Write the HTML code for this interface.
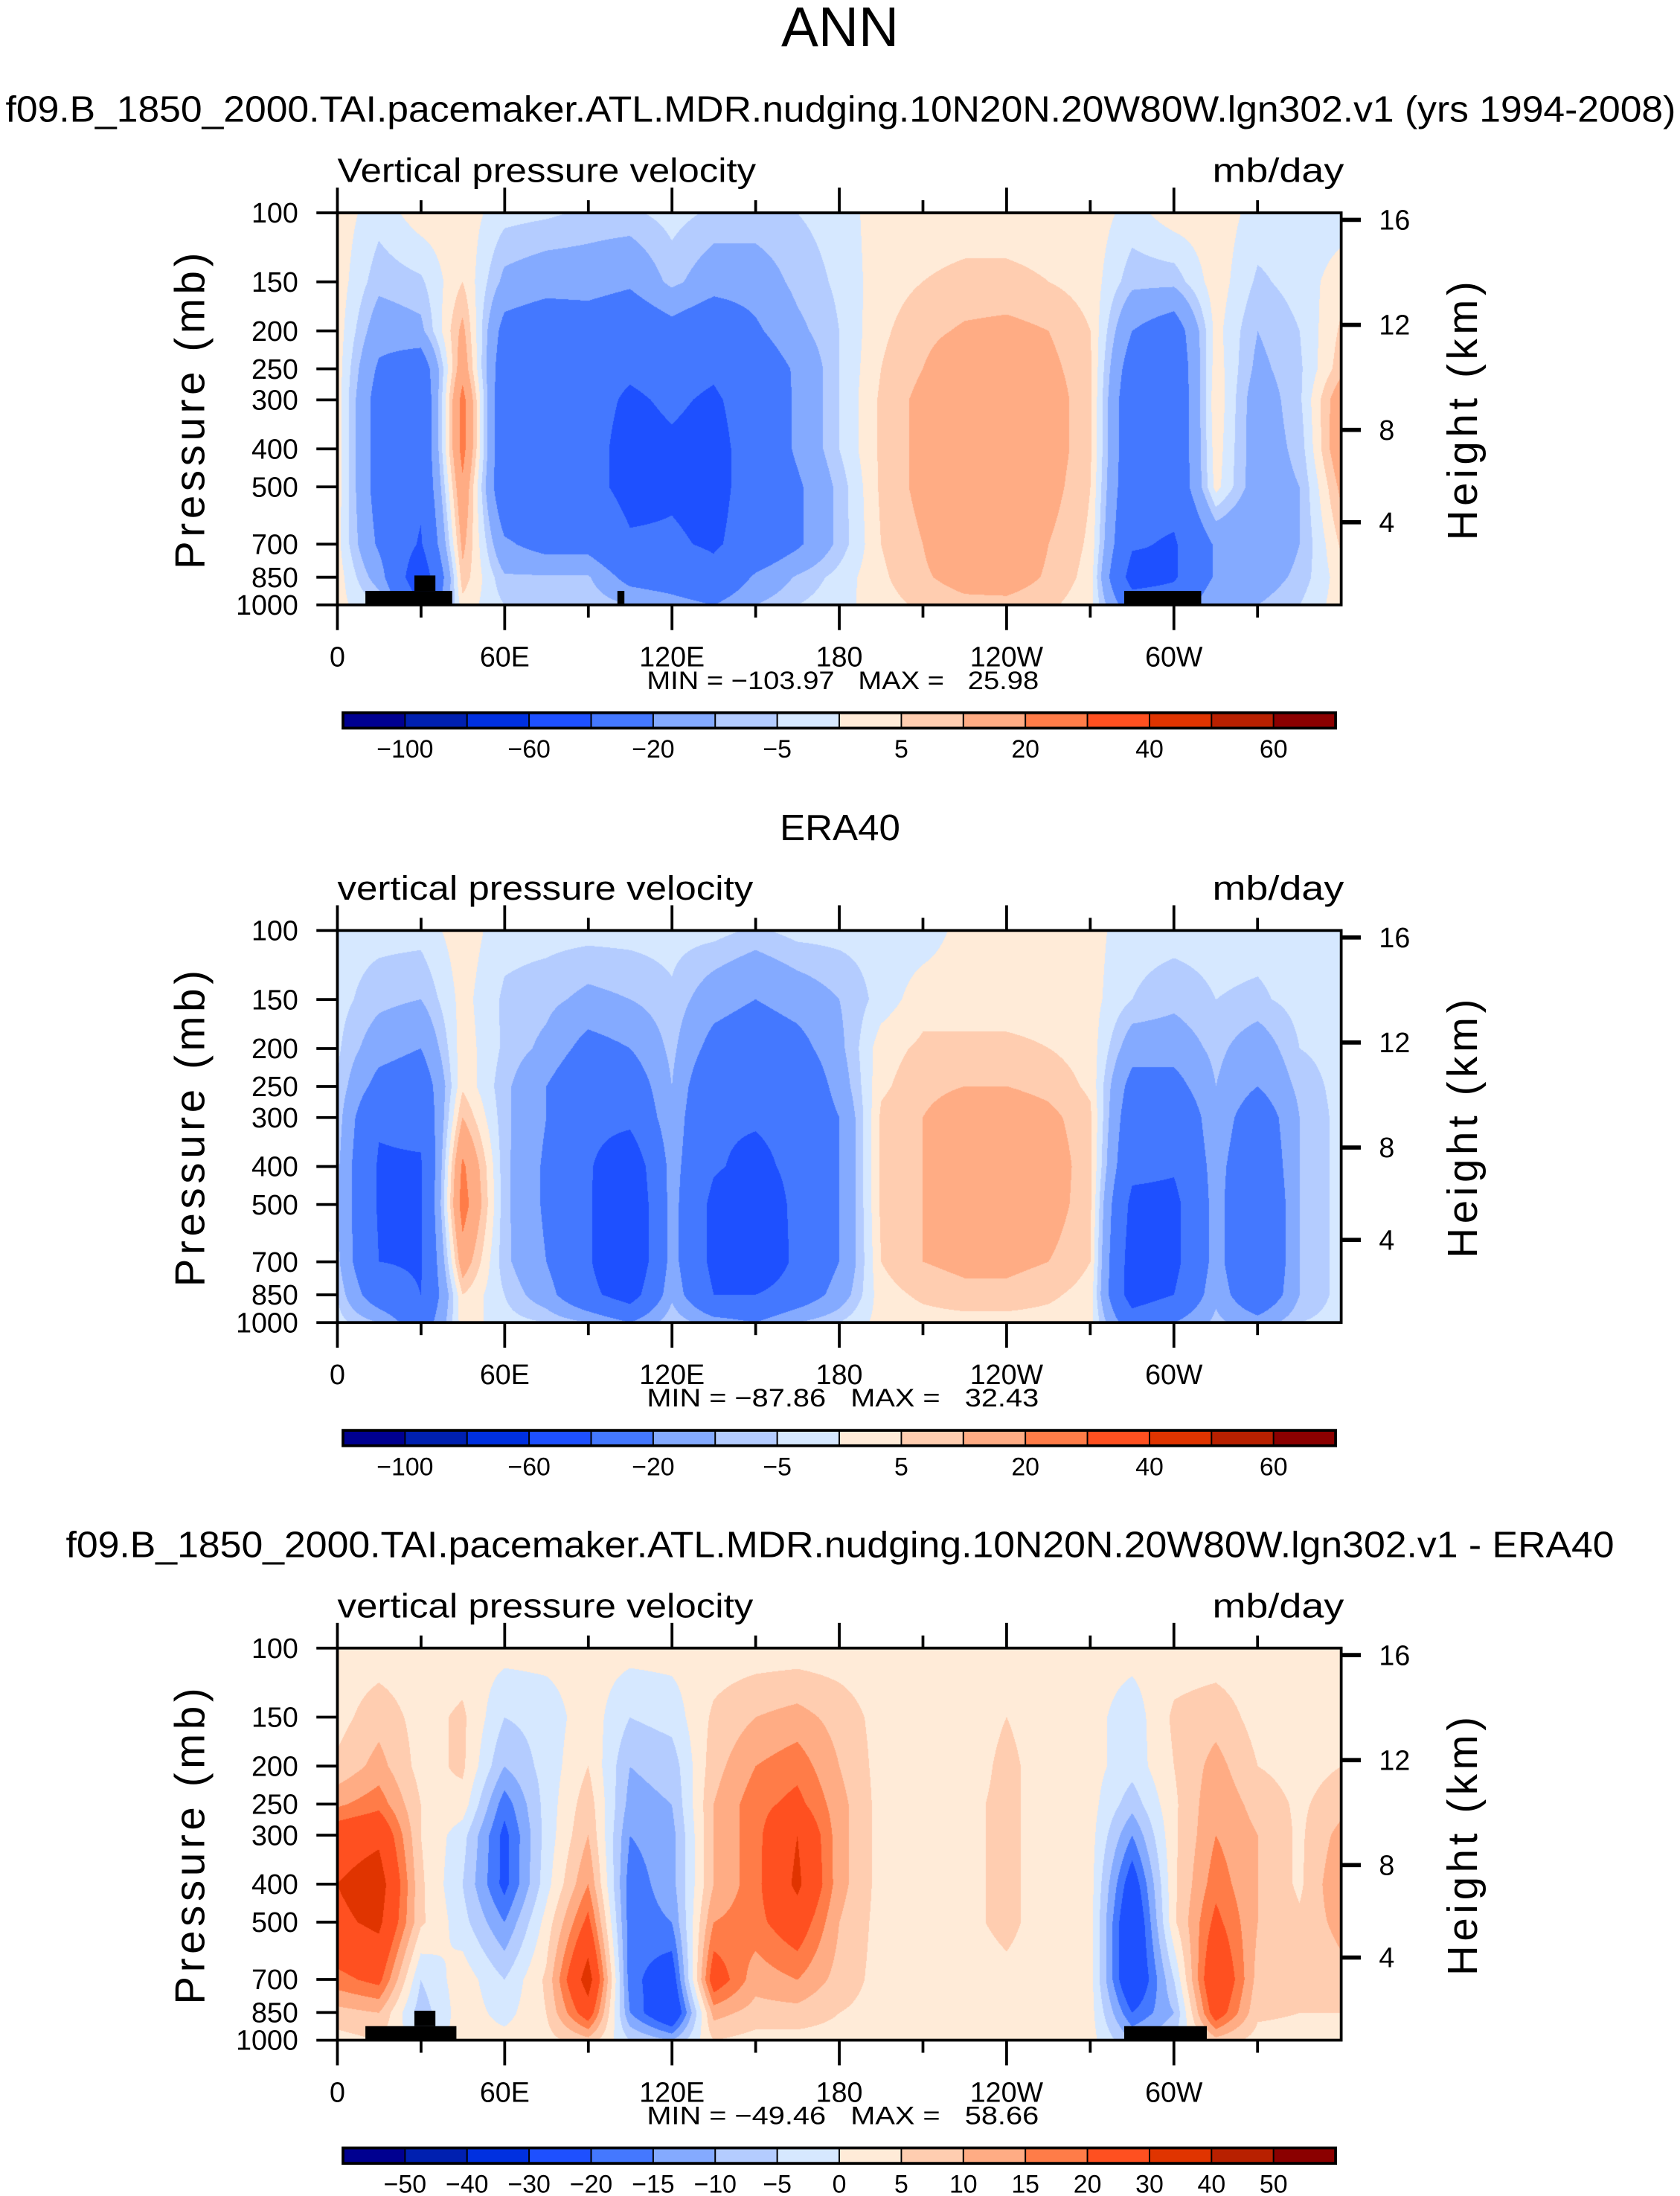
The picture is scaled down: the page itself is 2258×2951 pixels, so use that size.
<!DOCTYPE html>
<html><head><meta charset="utf-8">
<style>
html,body{margin:0;padding:0;background:#fff;}
#wrap{position:relative;width:2258px;height:2951px;overflow:hidden;background:#fff;}
canvas{position:absolute;}
svg{position:absolute;left:0;top:0;}
text{font-family:"Liberation Sans",sans-serif;fill:#000;}
</style></head>
<body>
<div id="wrap">
<canvas id="c0"></canvas>
<canvas id="c1"></canvas>
<canvas id="c2"></canvas>
<svg id="ov" width="2258" height="2951" viewBox="0 0 1200 1568.3"></svg>
</div>
<script>
const lons = [0,15,30,45,60,75,90,105,120,135,150,165,180,195,210,225,240,255,270,285,300,315,330,345,360];
const plevs = [100,150,200,250,300,400,500,700,850,1000];
const modelField = [
[ 3, -3,  3,  3, -3, -4, -6, -6, -3, -6, -6, -5, -3,  3,  3,  3,  3,  3,  3, -2,  3,  3, -2, -3, -3],
[ 3, -8, -6,  5,-12,-15,-15,-18, -8,-15,-15, -8, -4,  3,  5,  6,  6,  5,  3, -8, -8,  3, -6, -3,  3],
[ 3,-15,-12, 12,-25,-30,-28,-32,-25,-32,-22,-12, -5,  4,  8, 11, 12, 10,  5,-20,-28,  2,-10, -5,  6],
[ 3,-22,-30, 16,-30,-32,-35,-38,-35,-38,-30,-18, -5,  5, 10, 17, 17, 12,  6,-28,-32,  3,-12, -6,  8],
[ 3,-26,-35, 24,-33,-33,-35,-42,-38,-42,-33,-18, -5,  6, 12, 18, 18, 14,  6,-32,-33,  4,-15, -6, 16],
[ 3,-26,-35, 24,-33,-33,-35,-45,-42,-45,-33,-18, -5,  6, 12, 18, 18, 14,  6,-32,-33,  3,-15, -8, 17],
[ 3,-26,-36, 18,-33,-33,-35,-45,-42,-45,-33,-22, -8,  6, 12, 18, 18, 13,  5,-33,-33,  2,-15,-10, 12],
[ 2,-22,-42, 12,-18,-25,-25,-38,-38,-42,-33,-22, -8,  5, 10, 17, 17, 10,  4,-38,-42,-18,-20,-10,  6],
[ 3,-14,-55,  8, -9, -9, -9,-25,-28,-35,-18, -9, -3,  4,  9, 13, 14,  9,  3,-48,-42,-18,-15, -8,  3],
[ 2, -5,-40,  3, -5, -5, -5,-10,-15,-20,-10, -5, -2,  3,  6,  8,  8,  6,  2,-30,-30,-10,-10, -5,  3]];
const eraField = [
[-3, -3, -3,  3, -3, -3, -3, -3, -3, -3, -6, -3, -3, -3, -3,  2,  2,  2,  2, -3, -3, -3, -3, -3, -3],
[-3, -8,-10,  2, -6, -8,-12,-10, -6,-15,-20,-15,-10, -3,  3,  3,  3,  3,  2, -5, -8, -5, -6, -3, -3],
[-4,-15,-20,  3, -6,-12,-25,-20, -8,-25,-30,-25,-12,  3,  6,  6,  6,  5,  3,-15,-15, -8,-15, -5, -3],
[-5,-25,-30,  4, -8,-20,-35,-30,-10,-35,-35,-35,-15,  4,  8, 10, 10,  8,  4,-25,-25,-10,-20, -8, -3],
[-6,-38,-35, 10, -8,-20,-35,-35,-12,-38,-38,-35,-20,  6, 10, 15, 15, 12,  6,-30,-35,-12,-30,-10, -3],
[-8,-42,-42, 22, -8,-22,-38,-55,-15,-38,-45,-35,-20,  6, 10, 16, 18, 15,  6,-35,-38,-15,-35,-10, -3],
[-8,-42,-42, 25, -8,-22,-38,-60,-15,-45,-55,-35,-20,  6, 10, 14, 16, 14,  6,-45,-45,-15,-40,-10, -3],
[-8,-40,-42, 15, -8,-20,-38,-60,-15,-45,-60,-35,-20,  5, 10, 12, 12, 10,  5,-50,-45,-15,-40,-10, -3],
[-5,-30,-40,  5, -5,-15,-35,-50,-12,-40,-40,-30,-15,  3,  6,  8,  8,  6,  3,-50,-40,-12,-35,-10, -3],
[-3,-10,-30,  3, -3, -5,-10,-20, -5,-15,-20,-10, -5,  2,  3,  3,  3,  3,  2,-30,-20, -8,-15, -5, -3]];
const diffField = [
[ 2,  2,  2,  2,  2,  2,  2,  2,  2,  2,  2,  2,  2,  2,  2,  2,  2,  2,  2,  2,  2,  2,  2,  2,  2],
[ 3,  8,  3,  6, -5, -3,  3, -5, -3,  6, 10, 12,  8,  3,  3,  3,  5,  3,  2, -3,  6,  8,  3,  3,  3],
[ 6, 12,  3,  6,-10, -3,  5,-10, -8,  8, 15, 18, 10,  3,  3,  3,  6,  3,  2, -3,  5, 12,  5,  3,  5],
[14, 18,  5,  3,-18, -3,  8,-12,-10, 10, 18, 22, 12,  3,  3,  4,  6,  3,  2, -8,  4, 14,  8,  4,  8],
[25, 28,  5, -3,-22, -3, 10,-15,-12, 10, 18, 30, 12,  3,  3,  4,  6,  3,  2,-15,  4, 15, 10,  4, 12],
[30, 35,  6, -5,-22, -2, 15,-18,-12, 10, 18, 32, 12,  3,  3,  4,  6,  3,  2,-25,  4, 18, 10,  4, 15],
[28, 32,  6, -3,-15,  2, 22,-18,-15, 15, 18, 25, 10,  3,  3,  4,  6,  3,  2,-30,  4, 22, 10,  6, 12],
[18, 22, -5,  3, -5,  6, 35,-18,-25, 25, 12, 15,  8,  3,  3,  3,  4,  3,  2,-30, -5, 30,  8,  5,  8],
[ 8, 10, -8,  3, -2,  5, 25,-15,-30, 12,  8,  8,  5,  3,  3,  3,  3,  3,  2,-20,-10, 25,  6,  5,  5],
[ 3,  5, -3,  2,  2,  3,  8, -5,-10,  5,  3,  3,  3,  2,  2,  2,  2,  2,  2,-10, -5,  8,  3,  3,  3]];
const levelsAbs = [-100,-80,-60,-40,-20,-10,-5,0,5,10,20,30,40,50,60];
const levelsDiff = [-50,-40,-30,-20,-15,-10,-5,0,5,10,15,20,30,40,50];
const absLabels = ["-100","-60","-20","-5","5","20","40","60"];
const diffLabels = ["-50","-40","-30","-20","-15","-10","-5","0","5","10","15","20","30","40","50"];
const colors = ["#000090","#0020B0","#0030E0","#1E50FF","#4478FF","#84AAFF","#B4CCFF","#D6E8FF","#FFEBD8","#FFCDB0","#FFAC84","#FF7C48","#FF5020","#E03400","#B82000","#8B0000"];
const heightTicks = [16,12,8,4];
const heightTickY = [157,232,307,373];
const xTickLabels = ["0","60E","120E","180","120W","60W"];
const minmax = [["-103.97","25.98"],["-87.86","32.43"],["-49.46","58.66"]];

const S = 2258/1200;
const PL = 241, PR = 958, PT = 152, PB = 432, DY = 512.5;
const NS = "http://www.w3.org/2000/svg";
const ov = document.getElementById('ov');
function el(tag, attrs, txt){ const e=document.createElementNS(NS,tag); for(const k in attrs) e.setAttribute(k,attrs[k]); if(txt!==undefined) e.textContent=txt; ov.appendChild(e); return e; }
function yOfP(p,dy){ return dy+PT+(PB-PT)*(Math.log(p)-Math.log(100))/(Math.log(1000)-Math.log(100)); }
function xOfLon(l){ return PL+(PR-PL)*l/360; }
function hex(c){ return [parseInt(c.slice(1,3),16),parseInt(c.slice(3,5),16),parseInt(c.slice(5,7),16)]; }
const rgb = colors.map(hex);
function colIdx(v,lv){ let i=0; while(i<lv.length && v>=lv[i]) i++; return i; }

function drawField(cid, field, lv, dy){
  const c=document.getElementById(cid);
  const x0=Math.round(PL*S), y0=Math.round((PT+dy)*S);
  const W=Math.round(PR*S)-x0, H=Math.round((PB+dy)*S)-y0;
  c.width=W; c.height=H; c.style.left=x0+'px'; c.style.top=y0+'px';
  const ctx=c.getContext('2d'); const img=ctx.createImageData(W,H); const d=img.data;
  const lp=plevs.map(p=>Math.log(p));
  for(let py=0;py<H;py++){
    const lnp=Math.log(100)+(py+0.5)/H*(Math.log(1000)-Math.log(100));
    let i=0; while(i<plevs.length-2 && lnp>lp[i+1]) i++;
    const t=Math.min(1,Math.max(0,(lnp-lp[i])/(lp[i+1]-lp[i])));
    for(let px=0;px<W;px++){
      const lon=(px+0.5)/W*360; let j=Math.min(lons.length-2,Math.floor(lon/15)); const u=(lon-lons[j])/15;
      const v=(1-t)*((1-u)*field[i][j]+u*field[i][j+1])+t*((1-u)*field[i+1][j]+u*field[i+1][j+1])+0.013;
      const k=rgb[colIdx(v,lv)]; const o=(py*W+px)*4;
      d[o]=k[0]; d[o+1]=k[1]; d[o+2]=k[2]; d[o+3]=255;
    }
  }
  ctx.putImageData(img,0,0);
}
drawField('c0',modelField,levelsAbs,0);
drawField('c1',eraField,levelsAbs,DY);
drawField('c2',diffField,levelsDiff,2*DY);

let t;
t=el('text',{x:600,y:33,'font-size':40,'text-anchor':'middle',textLength:84,lengthAdjust:'spacingAndGlyphs'},'ANN');
 
const titles=[
 {s:"f09.B_1850_2000.TAI.pacemaker.ATL.MDR.nudging.10N20N.20W80W.lgn302.v1 (yrs 1994-2008)",x0:4,x1:1197,y:87,sub:"Vertical pressure velocity",subLen:299},
 {s:"ERA40",x0:557,x1:643,y:600,sub:"vertical pressure velocity",subLen:297},
 {s:"f09.B_1850_2000.TAI.pacemaker.ATL.MDR.nudging.10N20N.20W80W.lgn302.v1 - ERA40",x0:47,x1:1153,y:1112,sub:"vertical pressure velocity",subLen:297}];
for(let k=0;k<3;k++){
  const dy=k*DY, T=titles[k];
  t=el('text',{x:T.x0,y:T.y,'font-size':26,textLength:T.x1-T.x0,lengthAdjust:'spacingAndGlyphs'},T.s);
   
  t=el('text',{x:241,y:dy+130,'font-size':24,textLength:T.subLen,lengthAdjust:'spacingAndGlyphs'},T.sub);
   
  t=el('text',{x:866,y:dy+130,'font-size':24,textLength:94,lengthAdjust:'spacingAndGlyphs'},'mb/day');
   
  if(k!==1){
    const rects = k===0
      ? [[261,422,323,432],[296,411,311,422],[803,422,858,432],[441,422,446,432]]
      : [[261,422,326,432],[296,411,311,422],[803,422,862,432]];
    for(const r of rects){
      const rr=el('rect',{x:r[0],y:r[1]+dy,width:r[2]-r[0],height:r[3]-r[1],fill:'#000'});
       
    }
  }
  const f=el('rect',{x:PL,y:PT+dy,width:PR-PL,height:PB-PT,fill:'none',stroke:'#000','stroke-width':2});
   
  for(let l=0;l<=330;l+=30){
    const x=xOfLon(l), major=(l%60===0), L=major?18:9;
    el('line',{x1:x,y1:PT+dy,x2:x,y2:PT+dy-L,stroke:'#000','stroke-width':2});
    el('line',{x1:x,y1:PB+dy,x2:x,y2:PB+dy+L,stroke:'#000','stroke-width':2});
  }
  xTickLabels.forEach((s,i)=>{
    t=el('text',{x:xOfLon(i*60),y:dy+476,'font-size':20,'text-anchor':'middle'},s);
     
  });
  plevs.forEach(p=>{
    const y=yOfP(p,dy);
    el('line',{x1:PL-15,y1:y,x2:PL,y2:y,stroke:'#000','stroke-width':2});
    t=el('text',{x:213,y:y+7,'font-size':20,'text-anchor':'end'},String(p));
     
  });
  t=el('text',{x:0,y:0,'font-size':30,'text-anchor':'middle',transform:`translate(146,${dy+292}) rotate(-90)`,'letter-spacing':3},'Pressure (mb)');
   
  heightTicks.forEach((h,i)=>{
    const y=heightTickY[i]+dy;
    el('line',{x1:PR,y1:y,x2:PR+14,y2:y,stroke:'#000','stroke-width':3});
    t=el('text',{x:985,y:y+7,'font-size':20},String(h));
     
  });
  t=el('text',{x:0,y:0,'font-size':30,'text-anchor':'middle',transform:`translate(1055,${dy+292}) rotate(-90)`,'letter-spacing':3},'Height (km)');
   
  t=el('text',{x:462,y:dy+492,'font-size':18,textLength:280,lengthAdjust:'spacingAndGlyphs',style:'white-space:pre'},`MIN = ${minmax[k][0].replace('-','\u2212')}   MAX =   ${minmax[k][1]}`);
   
  const cbx=245, cbw=709, bw=cbw/16, cby=509+dy;
  colors.forEach((c,i)=>{
    const r=el('rect',{x:cbx+i*bw,y:cby,width:bw,height:11,fill:c,stroke:'#000','stroke-width':1});
     
  });
  el('rect',{x:cbx,y:cby,width:cbw,height:11,fill:'none',stroke:'#000','stroke-width':2});
  if(k<2){
    absLabels.forEach((s,i)=>{
      t=el('text',{x:cbx+bw*(2*i+1),y:cby+32,'font-size':18,'text-anchor':'middle'},s.replace('-','\u2212'));
       
    });
  } else {
    diffLabels.forEach((s,i)=>{
      t=el('text',{x:cbx+bw*(i+1),y:cby+32,'font-size':18,'text-anchor':'middle'},s.replace('-','\u2212'));
       
    });
  }
}
</script>
</body></html>
